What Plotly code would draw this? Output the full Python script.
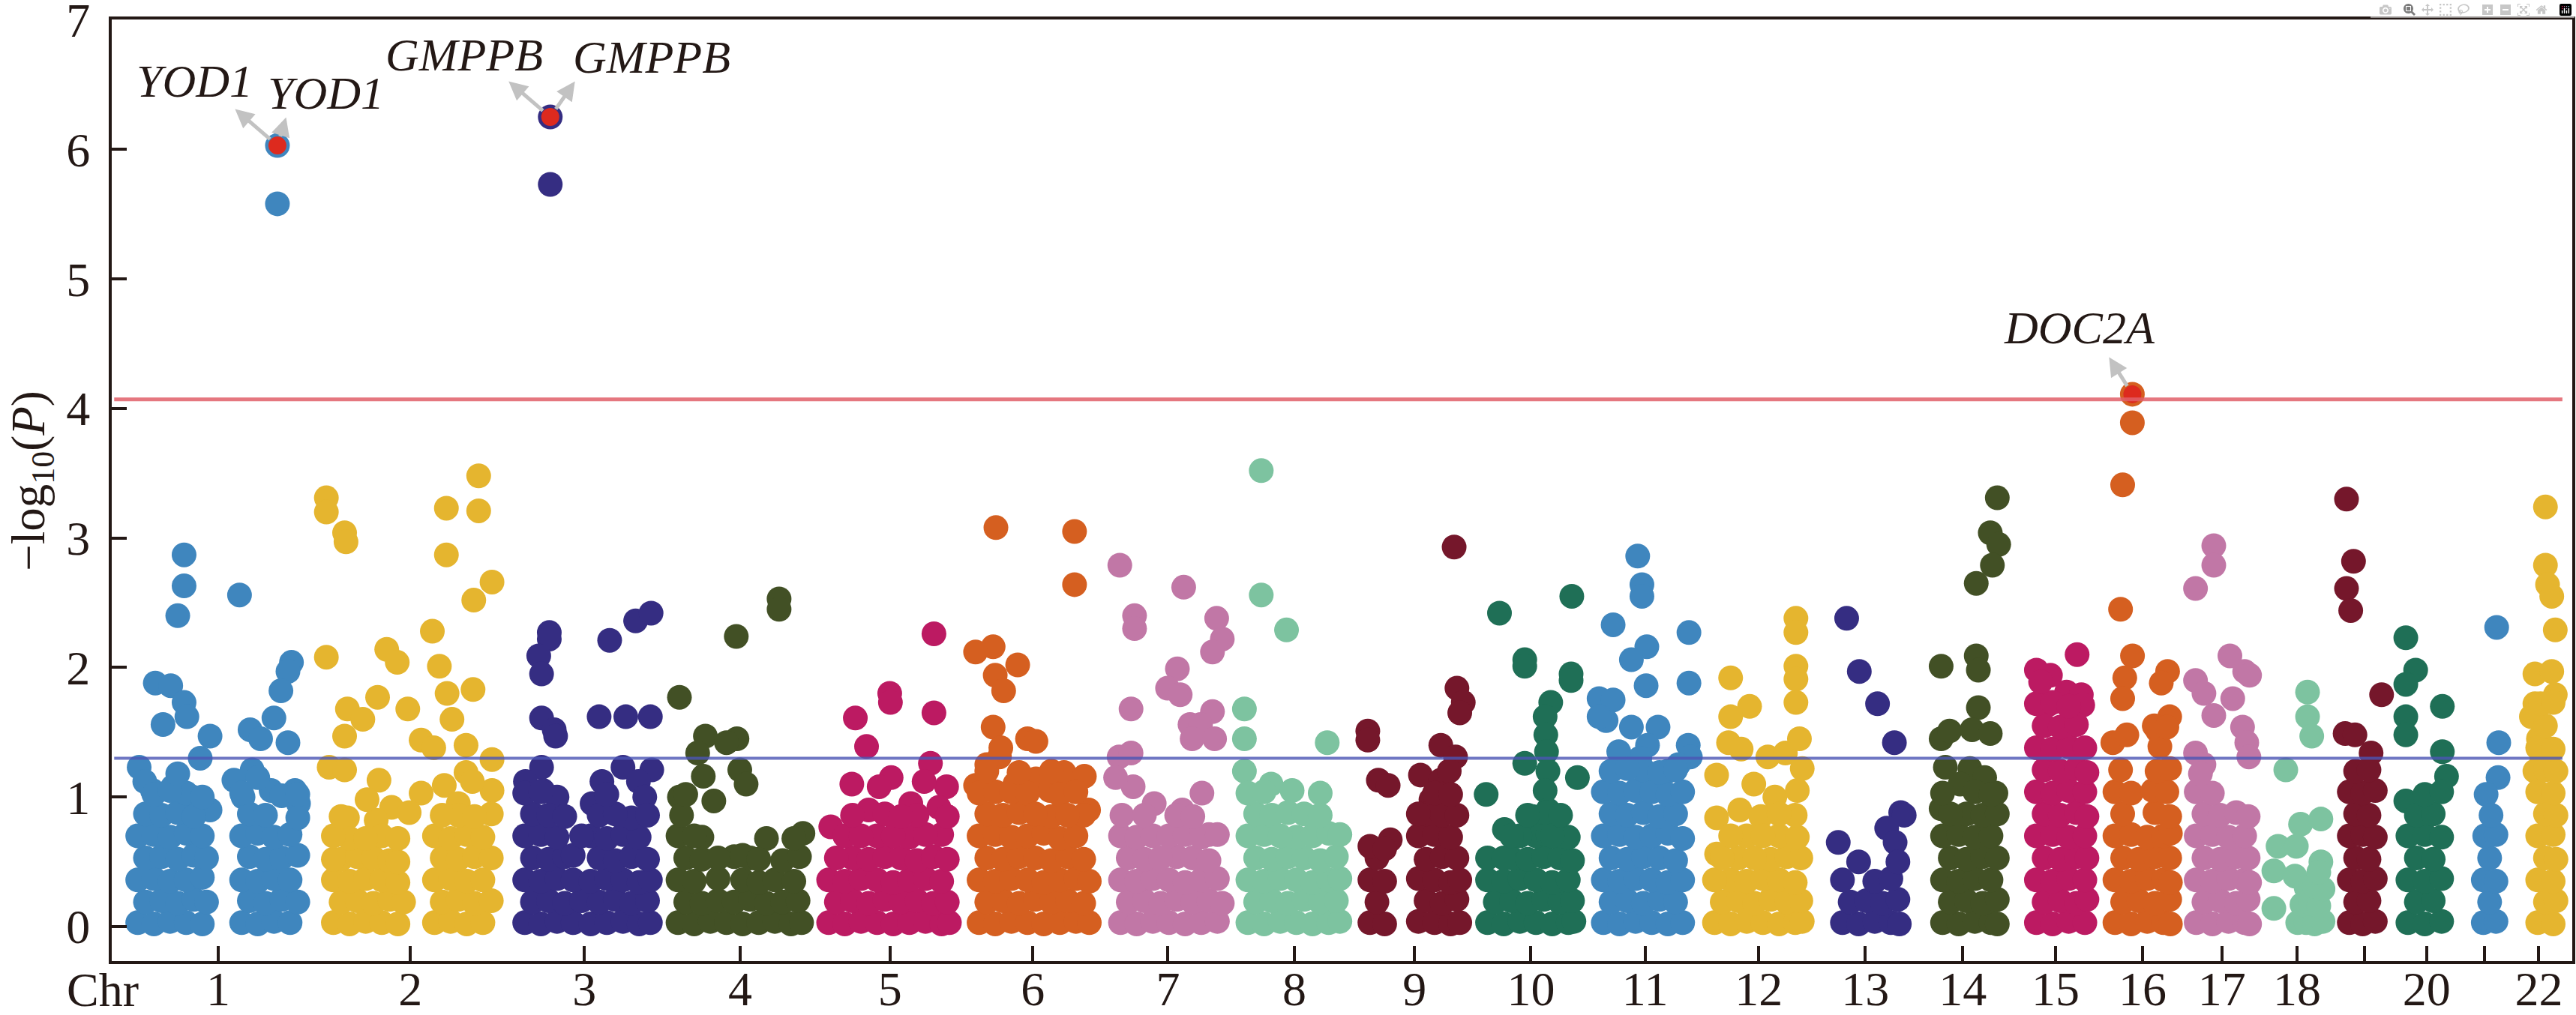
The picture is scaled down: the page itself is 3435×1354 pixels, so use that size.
import plotly.graph_objects as go

# chromosome sizes (Mb) and axis labels (19 and 21 are left blank on the axis)
CHROM_LEN = [249.3, 243.2, 198.0, 191.2, 180.9, 171.1, 159.1, 146.4, 141.2, 135.5, 135.0,
             133.9, 115.2, 107.3, 102.5, 90.4, 81.2, 78.1, 59.1, 63.0, 48.1, 51.3]
TICK_TEXT = ["1", "2", "3", "4", "5", "6", "7", "8", "9", "10", "11", "12", "13", "14",
             "15", "16", "17", "18", "", "20", "", "22"]

# (position in Mb, -log10 P) per chromosome
CHR1 = [
    (209, 6.03), (209, 5.58),
    (76, 2.87), (76, 2.63), (67, 2.40), (155, 2.56), (229, 2.04), (224, 1.97), (214, 1.82),
    (204, 1.61), (35, 1.88), (57, 1.86), (76, 1.73), (80, 1.62), (46, 1.56), (113, 1.47),
    (170, 1.52), (185, 1.45), (224, 1.42), (99, 1.30), (12, 1.23), (173, 1.21), (147, 1.13),
    (234, 1.05), (31, 1.05), (113, 0.90), (20, 1.12), (60, 1.08), (88, 1.00), (160, 1.00),
    (200, 1.05), (239, 0.95),
    (10, 0.03), (33, 0.02), (56, 0.04), (79, 0.03), (102, 0.02), (158, 0.03), (181, 0.02), (204, 0.04), (227, 0.03),
    (21, 0.19), (44, 0.20), (67, 0.18), (90, 0.21), (108, 0.19), (169, 0.20), (192, 0.18), (215, 0.21), (238, 0.19),
    (10, 0.36), (33, 0.37), (56, 0.35), (79, 0.36), (102, 0.38), (158, 0.36), (181, 0.35), (204, 0.37), (227, 0.36),
    (21, 0.53), (44, 0.54), (67, 0.52), (90, 0.55), (108, 0.53), (169, 0.54), (192, 0.52), (215, 0.53), (238, 0.55),
    (10, 0.70), (33, 0.71), (56, 0.69), (79, 0.72), (102, 0.70), (158, 0.70), (181, 0.72), (204, 0.69), (227, 0.71),
    (21, 0.87), (44, 0.86), (67, 0.88), (90, 0.85), (169, 0.87), (192, 0.86), (238, 0.84),
    (33, 1.02), (79, 1.03), (215, 1.01), (56, 1.05), (102, 1.00), (158, 1.03), (238, 1.02),
    (67, 1.18), (181, 1.15),
]
CHR2 = [
    (2, 3.31), (2, 3.20), (28, 3.04), (30, 2.97), (173, 3.23), (219, 3.48), (219, 3.21),
    (173, 2.87), (238, 2.66), (212, 2.52), (153, 2.28), (2, 2.08), (88, 2.14), (103, 2.04),
    (163, 2.01), (174, 1.80), (211, 1.83), (75, 1.77), (118, 1.68), (32, 1.68), (54, 1.60),
    (181, 1.60), (28, 1.47), (137, 1.44), (155, 1.38), (201, 1.40), (238, 1.29), (6, 1.23),
    (28, 1.21), (201, 1.19), (77, 1.13), (238, 1.05), (137, 1.03), (170, 1.09), (95, 0.92),
    (73, 0.82), (32, 0.84), (210, 1.12), (190, 0.95), (60, 0.98), (120, 0.88),
    (12, 0.03), (35, 0.02), (58, 0.04), (81, 0.03), (104, 0.02), (156, 0.03), (179, 0.04), (202, 0.02), (225, 0.03),
    (23, 0.19), (46, 0.20), (69, 0.18), (92, 0.21), (112, 0.19), (167, 0.19), (190, 0.21), (213, 0.18), (237, 0.20),
    (12, 0.36), (35, 0.35), (58, 0.37), (81, 0.36), (104, 0.34), (156, 0.36), (179, 0.37), (202, 0.35), (225, 0.36),
    (23, 0.52), (46, 0.54), (69, 0.53), (92, 0.51), (167, 0.53), (190, 0.52), (213, 0.54), (237, 0.53),
    (35, 0.68), (81, 0.70), (156, 0.70), (179, 0.68), (202, 0.71), (225, 0.69),
    (190, 0.86), (237, 0.87), (12, 0.52), (104, 0.50), (58, 0.68), (104, 0.68), (12, 0.70),
    (167, 0.86), (213, 0.85), (23, 0.85),
]
CHR3 = [
    (50.4, 6.25), (50.4, 5.73),
    (49, 2.27), (49, 2.22), (34, 2.09), (38, 1.95), (135, 2.21), (172, 2.36), (194, 2.42),
    (38, 1.61), (56, 1.52), (58, 1.47), (120, 1.62), (158, 1.62), (193, 1.62), (38, 1.23),
    (154, 1.23), (195, 1.21), (124, 1.12), (176, 1.12), (15, 1.12), (40, 1.05), (60, 1.00),
    (110, 0.95), (185, 1.00),
    (14, 0.03), (37, 0.02), (60, 0.04), (83, 0.03), (108, 0.02), (131, 0.03), (154, 0.04), (177, 0.02), (193, 0.03),
    (25, 0.19), (48, 0.20), (71, 0.18), (95, 0.20), (120, 0.19), (143, 0.21), (166, 0.18), (189, 0.20),
    (14, 0.36), (37, 0.35), (60, 0.37), (83, 0.36), (108, 0.35), (131, 0.37), (154, 0.36), (177, 0.34), (193, 0.36),
    (25, 0.53), (48, 0.52), (71, 0.54), (120, 0.53), (143, 0.51), (166, 0.54), (189, 0.52),
    (14, 0.70), (37, 0.71), (60, 0.69), (108, 0.70), (131, 0.68), (154, 0.71), (177, 0.69),
    (25, 0.87), (48, 0.86), (71, 0.85), (120, 0.86), (166, 0.84),
    (14, 1.03), (37, 1.04), (143, 0.87), (189, 0.86), (131, 1.02), (83, 0.55), (95, 0.70),
]
CHR4 = [
    (151, 2.53), (151, 2.45), (90, 2.24), (9, 1.77), (46, 1.47), (91, 1.45), (35, 1.34),
    (76, 1.42), (95, 1.21), (43, 1.16), (9, 1.00), (104, 1.10), (58, 0.97), (185, 0.72),
    (7, 0.03), (30, 0.02), (53, 0.04), (76, 0.03), (99, 0.02), (122, 0.03), (145, 0.04), (168, 0.02), (183, 0.03),
    (18, 0.19), (41, 0.18), (64, 0.20), (87, 0.19), (110, 0.21), (133, 0.18), (156, 0.19), (178, 0.20),
    (7, 0.36), (30, 0.35), (64, 0.37), (99, 0.36), (122, 0.34), (145, 0.36), (172, 0.35),
    (18, 0.53), (41, 0.52), (87, 0.54), (110, 0.53), (156, 0.51), (180, 0.54),
    (7, 0.70), (41, 0.69), (133, 0.68),
    (12, 0.86), (64, 0.53), (30, 0.70), (99, 0.55), (122, 0.52), (172, 0.68), (18, 1.02),
]
CHR5 = [
    (153, 2.26), (90, 1.80), (91, 1.73), (41, 1.61), (153, 1.65), (57, 1.39), (148, 1.26),
    (36, 1.10), (92, 1.15), (75, 1.08), (6, 0.77), (171, 1.08), (139, 1.12), (120, 0.95),
    (60, 0.90), (160, 0.92),
    (3, 0.03), (26, 0.02), (49, 0.04), (72, 0.03), (95, 0.02), (118, 0.03), (141, 0.04), (164, 0.02), (175, 0.03),
    (14, 0.19), (37, 0.20), (60, 0.18), (83, 0.21), (106, 0.19), (129, 0.20), (152, 0.18), (172, 0.19),
    (3, 0.36), (26, 0.35), (49, 0.37), (72, 0.36), (95, 0.34), (118, 0.36), (141, 0.37), (164, 0.35),
    (37, 0.53), (60, 0.52), (83, 0.54), (106, 0.53), (129, 0.51), (152, 0.54), (172, 0.52),
    (72, 0.70), (118, 0.69), (164, 0.71),
    (14, 0.53), (26, 0.70), (49, 0.70), (95, 0.70), (141, 0.71), (37, 0.86), (83, 0.87),
    (129, 0.86), (172, 0.85), (106, 0.85),
]
CHR6 = [
    (33, 3.08), (145, 3.05), (145, 2.64), (29, 2.16), (4, 2.12), (64, 2.02), (32, 1.94),
    (44, 1.82), (29, 1.54), (78, 1.45), (90, 1.43), (38, 1.31), (130, 1.19), (159, 1.16),
    (165, 0.90), (90, 1.14), (4, 1.09), (20, 1.25), (40, 1.38), (110, 1.05), (60, 1.10),
    (9, 0.03), (32, 0.02), (55, 0.04), (78, 0.03), (101, 0.02), (124, 0.03), (147, 0.04), (166, 0.03),
    (20, 0.19), (43, 0.20), (66, 0.18), (89, 0.21), (112, 0.19), (135, 0.20), (158, 0.18),
    (9, 0.36), (32, 0.35), (55, 0.37), (78, 0.36), (101, 0.34), (124, 0.36), (147, 0.37), (166, 0.35),
    (20, 0.53), (43, 0.52), (66, 0.54), (89, 0.53), (112, 0.51), (135, 0.54), (158, 0.52),
    (9, 0.70), (32, 0.71), (55, 0.69), (78, 0.70), (101, 0.72), (124, 0.68), (147, 0.70),
    (20, 0.87), (43, 0.86), (66, 0.88), (112, 0.85), (158, 0.86),
    (9, 1.03), (32, 1.04), (55, 1.04), (78, 1.03), (124, 1.02), (147, 1.04), (89, 0.87),
    (135, 0.86), (20, 1.20), (66, 1.19), (112, 1.20),
]
CHR7 = [
    (11, 2.79), (102, 2.62), (32, 2.40), (32, 2.30), (149, 2.38), (157, 2.22), (143, 2.12),
    (93, 1.99), (79, 1.84), (97, 1.79), (27, 1.68), (143, 1.66), (111, 1.56), (126, 1.56),
    (114, 1.45), (146, 1.45), (10, 1.31), (27, 1.34), (30, 1.08), (128, 1.03), (5, 1.15),
    (60, 0.95), (100, 0.90),
    (12, 0.03), (35, 0.02), (58, 0.04), (81, 0.03), (104, 0.02), (127, 0.03), (150, 0.04),
    (23, 0.19), (46, 0.20), (69, 0.18), (92, 0.21), (115, 0.19), (138, 0.20), (157, 0.18),
    (12, 0.36), (35, 0.35), (58, 0.37), (81, 0.36), (104, 0.34), (127, 0.36), (150, 0.37),
    (23, 0.53), (46, 0.52), (92, 0.54), (115, 0.53), (138, 0.51),
    (12, 0.70), (35, 0.69), (138, 0.71),
    (14, 0.86), (58, 0.70), (81, 0.70), (104, 0.71), (127, 0.69), (150, 0.71), (69, 0.53),
    (46, 0.86), (92, 0.86), (115, 0.85),
]
CHR8 = [
    (26, 3.52), (26, 2.56), (62, 2.29), (2, 1.68), (2, 1.45), (120, 1.42), (2, 1.20),
    (110, 1.03), (40, 1.10), (70, 1.05),
    (7, 0.03), (30, 0.02), (53, 0.04), (76, 0.03), (99, 0.02), (122, 0.03), (138, 0.04),
    (18, 0.19), (41, 0.20), (64, 0.18), (87, 0.21), (110, 0.19), (133, 0.20),
    (7, 0.36), (30, 0.35), (53, 0.37), (76, 0.36), (99, 0.34), (122, 0.36), (138, 0.37),
    (18, 0.53), (41, 0.52), (64, 0.54), (87, 0.53), (110, 0.51), (133, 0.54),
    (7, 0.70), (30, 0.71), (76, 0.69), (99, 0.70), (122, 0.72),
    (18, 0.87), (41, 0.86), (64, 0.88),
    (53, 0.70), (138, 0.71), (87, 0.87), (110, 0.86), (7, 1.03), (30, 1.04),
]
CHR9 = [
    (127, 2.93), (131, 1.84), (140, 1.73), (135, 1.65), (4, 1.51), (4, 1.44), (108, 1.40),
    (129, 1.31), (79, 1.17), (108, 1.13), (19, 1.13), (33, 1.09), (94, 0.98), (36, 0.67),
    (120, 1.20),
    (7, 0.03), (28, 0.02), (76, 0.04), (99, 0.03), (122, 0.02), (135, 0.03),
    (17, 0.19), (87, 0.20), (110, 0.18), (131, 0.21),
    (7, 0.36), (28, 0.35), (76, 0.37), (99, 0.36), (122, 0.34), (135, 0.36),
    (17, 0.53), (87, 0.52), (110, 0.54), (131, 0.53),
    (76, 0.70), (99, 0.71), (122, 0.69),
    (87, 0.87), (110, 0.86),
    (7, 0.62), (28, 0.60), (76, 0.87), (131, 0.86), (99, 1.03), (122, 1.02),
]
CHR10 = [
    (23, 2.42), (126, 2.55), (59, 2.06), (59, 2.01), (125, 1.95), (125, 1.90), (96, 1.73),
    (88, 1.62), (89, 1.48), (59, 1.26), (134, 1.15), (4, 1.02), (90, 1.35), (92, 1.20),
    (88, 1.05), (92, 0.90), (70, 0.85), (30, 0.75),
    (6, 0.03), (29, 0.02), (52, 0.04), (75, 0.03), (98, 0.02), (121, 0.03), (129, 0.04),
    (17, 0.19), (40, 0.20), (63, 0.18), (86, 0.21), (109, 0.19), (127, 0.20),
    (6, 0.36), (29, 0.35), (52, 0.37), (75, 0.36), (98, 0.34), (121, 0.36),
    (40, 0.53), (63, 0.52), (86, 0.54), (109, 0.53), (127, 0.51),
    (75, 0.70), (92, 0.71), (121, 0.69),
    (90, 0.88), (6, 0.53), (29, 0.53), (52, 0.70), (98, 0.70), (40, 0.70), (110, 0.86),
    (63, 0.86),
]
CHR11 = [
    (57, 2.86), (63, 2.64), (63, 2.55), (22, 2.33), (130, 2.27), (70, 2.16), (48, 2.06),
    (130, 1.88), (69, 1.86), (2, 1.76), (22, 1.75), (12, 1.59), (2, 1.62), (86, 1.54),
    (129, 1.40), (132, 1.31), (48, 1.54), (71, 1.40), (60, 1.30), (100, 1.20), (115, 1.25),
    (30, 1.35),
    (8, 0.03), (31, 0.02), (54, 0.04), (77, 0.03), (100, 0.02), (121, 0.03),
    (19, 0.19), (42, 0.20), (65, 0.18), (88, 0.21), (111, 0.19),
    (8, 0.36), (31, 0.35), (54, 0.37), (77, 0.36), (100, 0.34), (121, 0.36),
    (19, 0.53), (42, 0.52), (65, 0.54), (88, 0.53), (111, 0.51),
    (8, 0.70), (31, 0.71), (54, 0.69), (77, 0.70), (100, 0.72), (121, 0.68),
    (19, 0.87), (42, 0.86), (65, 0.88), (88, 0.85), (111, 0.87),
    (8, 1.04), (31, 1.03), (54, 1.05), (77, 1.04), (100, 1.02), (121, 1.04),
    (19, 1.20), (65, 1.21), (88, 1.19), (42, 1.22), (111, 1.21),
]
CHR12 = [
    (120, 2.38), (120, 2.27), (120, 2.01), (120, 1.91), (120, 1.73), (27, 1.92), (54, 1.70),
    (27, 1.62), (24, 1.42), (42, 1.37), (80, 1.31), (105, 1.34), (7, 1.17), (129, 1.22),
    (7, 0.84), (7, 0.56), (60, 1.10), (90, 1.00), (125, 1.45), (122, 1.05), (40, 0.90),
    (70, 0.85),
    (4, 0.03), (27, 0.02), (50, 0.04), (73, 0.03), (96, 0.02), (119, 0.03), (129, 0.04),
    (15, 0.19), (38, 0.20), (61, 0.18), (84, 0.21), (107, 0.19), (127, 0.20),
    (27, 0.36), (50, 0.35), (73, 0.37), (96, 0.36), (119, 0.34),
    (38, 0.53), (84, 0.52), (107, 0.54), (127, 0.53),
    (96, 0.70), (122, 0.69),
    (4, 0.36), (15, 0.53), (61, 0.53), (50, 0.70), (73, 0.70), (27, 0.70), (119, 0.86),
    (96, 0.87),
]
CHR13 = [
    (31, 2.38), (49, 1.97), (75, 1.72), (99, 1.42), (108, 0.88), (113, 0.86), (88, 0.76),
    (19, 0.65), (100, 0.65),
    (25, 0.03), (48, 0.02), (71, 0.04), (94, 0.03), (106, 0.02),
    (36, 0.19), (59, 0.20), (82, 0.18), (104, 0.21),
    (25, 0.36), (71, 0.35), (94, 0.37),
    (48, 0.50), (104, 0.50),
]
CHR14 = [
    (103, 3.31), (93, 3.04), (105, 2.95), (96, 2.79), (73, 2.65), (23, 2.01), (73, 2.09),
    (76, 1.98), (76, 1.69), (23, 1.45), (35, 1.51), (67, 1.52), (93, 1.49), (29, 1.23),
    (64, 1.22), (101, 1.03), (23, 0.91), (50, 1.10), (85, 1.15),
    (25, 0.03), (48, 0.02), (71, 0.04), (94, 0.03), (103, 0.02),
    (36, 0.19), (59, 0.20), (82, 0.18), (103, 0.21),
    (25, 0.36), (48, 0.35), (71, 0.37), (94, 0.36),
    (36, 0.53), (59, 0.52), (82, 0.54), (103, 0.53),
    (25, 0.70), (48, 0.71), (71, 0.69), (94, 0.70),
    (59, 0.87), (82, 0.86), (36, 0.87), (103, 0.87), (25, 1.03), (71, 1.04), (94, 1.02),
]
CHR15 = [
    (82, 2.10), (24, 1.98), (44, 1.94), (67, 1.81), (88, 1.79), (40, 1.71), (90, 1.71),
    (24, 0.03), (47, 0.02), (70, 0.04), (93, 0.03),
    (35, 0.19), (58, 0.20), (81, 0.18), (96, 0.21),
    (24, 0.36), (47, 0.35), (70, 0.37), (93, 0.36),
    (35, 0.53), (58, 0.52), (81, 0.54), (96, 0.53),
    (24, 0.70), (47, 0.71), (70, 0.69), (93, 0.70),
    (35, 0.87), (58, 0.86), (81, 0.88), (96, 0.85),
    (24, 1.04), (47, 1.03), (70, 1.05), (93, 1.04),
    (35, 1.21), (58, 1.20), (81, 1.22), (96, 1.19),
    (24, 1.38), (47, 1.37), (70, 1.39), (93, 1.38),
    (35, 1.55), (58, 1.54), (81, 1.56),
    (24, 1.72), (47, 1.73), (70, 1.70),
    (30, 1.89),
]
CHR16 = [
    (30.8, 4.11), (30.8, 3.89), (17, 3.41), (14, 2.45), (31, 2.09), (81, 1.97), (72, 1.88),
    (20, 1.92), (17, 1.76), (84, 1.62), (3, 1.42), (23, 1.48), (67, 1.51),
    (6, 0.03), (29, 0.02), (52, 0.04), (75, 0.03), (85, 0.02),
    (17, 0.19), (40, 0.20), (63, 0.18), (84, 0.21),
    (6, 0.36), (29, 0.35), (52, 0.37), (75, 0.36), (85, 0.34),
    (17, 0.53), (40, 0.52), (63, 0.54), (84, 0.53),
    (6, 0.70), (29, 0.71), (52, 0.69), (75, 0.70), (85, 0.72),
    (17, 0.87), (63, 0.88), (84, 0.85),
    (6, 1.04), (29, 1.03), (60, 1.05), (80, 1.04),
    (14, 1.21), (66, 1.20), (84, 1.22),
    (70, 1.39), (62, 1.55), (80, 1.54),
]
CHR17 = [
    (29, 2.94), (29, 2.79), (3, 2.61), (52, 2.09), (73, 1.97), (80, 1.94), (3, 1.90),
    (15, 1.80), (56, 1.76), (29, 1.63), (70, 1.54), (76, 1.42), (79, 1.31), (3, 1.34),
    (15, 1.25),
    (4, 0.03), (27, 0.02), (50, 0.04), (73, 0.03), (80, 0.02),
    (15, 0.19), (38, 0.20), (61, 0.18), (78, 0.21),
    (4, 0.36), (27, 0.35), (50, 0.37), (73, 0.36), (80, 0.34),
    (15, 0.53), (38, 0.52), (61, 0.54), (78, 0.53),
    (4, 0.70), (27, 0.71), (50, 0.69), (73, 0.70),
    (15, 0.87), (38, 0.86), (61, 0.88), (78, 0.85),
    (4, 1.04), (27, 1.03),
    (10, 1.18),
]
CHR18 = [
    (54, 1.81), (54, 1.62), (60, 1.47), (23, 1.21), (12, 0.62), (44, 0.79), (73, 0.83),
    (38, 0.62), (73, 0.50), (6, 0.43), (36, 0.39), (6, 0.14),
    (40, 0.03), (52, 0.03), (64, 0.02), (76, 0.04), (46, 0.17), (58, 0.18), (70, 0.16),
    (52, 0.30), (64, 0.31), (76, 0.29), (70, 0.42),
]
CHR19 = [
    (4, 3.30), (14, 2.82), (4, 2.61), (10, 2.44), (54, 1.79), (2, 1.49), (16, 1.48), (39, 1.34),
    (8, 0.03), (27, 0.02), (45, 0.04),
    (17, 0.19), (36, 0.20),
    (8, 0.36), (27, 0.35), (45, 0.37),
    (17, 0.53), (36, 0.52),
    (8, 0.70), (27, 0.71), (45, 0.69),
    (17, 0.87), (36, 0.86),
    (8, 1.04), (27, 1.03), (45, 1.05),
    (17, 1.20), (36, 1.21),
]
CHR20 = [
    (2, 2.23), (16, 1.98), (2, 1.87), (54, 1.70), (2, 1.62), (2, 1.48), (54, 1.35), (60, 1.16),
    (2, 0.97),
    (5, 0.03), (29, 0.02), (53, 0.04),
    (17, 0.19), (41, 0.20),
    (5, 0.36), (29, 0.35), (53, 0.37),
    (17, 0.53), (41, 0.52),
    (5, 0.70), (29, 0.71), (53, 0.69),
    (17, 0.86), (41, 0.87),
    (29, 1.02), (53, 1.04),
]
CHR21 = [
    (41, 2.31), (44, 1.42), (43, 1.15), (26, 1.02),
    (22, 0.03), (40, 0.04), (31, 0.19), (22, 0.36), (40, 0.35), (31, 0.53), (24, 0.70),
    (40, 0.71), (33, 0.86),
]
CHR22 = [
    (35, 3.24), (35, 2.79), (38, 2.64), (44, 2.55), (49, 2.29), (20, 1.95), (44, 1.97),
    (20, 1.72), (49, 1.79), (15, 1.62), (25, 1.45), (30, 1.30), (20, 1.20),
    (24, 0.03), (46, 0.02), (35, 0.19), (50, 0.20), (24, 0.36), (46, 0.35), (35, 0.53),
    (50, 0.52), (24, 0.70), (46, 0.71), (35, 0.87), (50, 0.86), (24, 1.04), (46, 1.03),
    (35, 1.21), (50, 1.20), (24, 1.38), (46, 1.37), (35, 1.55), (28, 1.72), (46, 1.73),
]

# highlighted hits
HIT_GENE = ["YOD1", "GMPPB", "DOC2A"]
HIT_CHR = [1, 3, 16]
HIT_POS = [209, 50.4, 30.8]
HIT_LOGP = [6.03, 6.25, 4.11]

SUGGESTIVE = 1.30
SIGNIFICANT = 4.07

CHR_POINTS = [CHR1, CHR2, CHR3, CHR4, CHR5, CHR6, CHR7, CHR8, CHR9, CHR10, CHR11,
              CHR12, CHR13, CHR14, CHR15, CHR16, CHR17, CHR18, CHR19, CHR20, CHR21, CHR22]

PALETTE = ["#3F86BE", "#E5B52F", "#352D82", "#425025", "#BC1A62",
           "#D55F20", "#C177A6", "#7DC3A0", "#75172B", "#1F6F56"]
FONT = "Liberation Serif"
INK = "#231815"

# cumulative genome coordinate with a gap between chromosomes
GAP = 27.4
offsets = []
start = 0.0
for length in CHROM_LEN:
    offsets.append(start)
    start += length + GAP
centers = [o + length / 2 for o, length in zip(offsets, CHROM_LEN)]

fig = go.Figure()

for i, pts in enumerate(CHR_POINTS):
    fig.add_trace(go.Scatter(
        x=[offsets[i] + p for p, _ in pts],
        y=[v for _, v in pts],
        mode="markers",
        marker=dict(size=33, color=PALETTE[i % 10], line=dict(width=0)),
        showlegend=False,
        hoverinfo="skip",
    ))

hit_x = [offsets[c - 1] + p for c, p in zip(HIT_CHR, HIT_POS)]
fig.add_trace(go.Scatter(
    x=hit_x, y=HIT_LOGP, mode="markers",
    marker=dict(size=24, color="#DD2A1E", line=dict(width=0)),
    showlegend=False, hoverinfo="skip",
))

# threshold lines
fig.add_shape(type="line", xref="paper", yref="y", x0=0.001, x1=0.996,
              y0=SIGNIFICANT, y1=SIGNIFICANT,
              line=dict(color="rgba(225,95,105,0.85)", width=5), layer="above")
fig.add_shape(type="line", xref="paper", yref="y", x0=0.001, x1=0.996,
              y0=SUGGESTIVE, y1=SUGGESTIVE,
              line=dict(color="rgba(75,85,180,0.8)", width=4), layer="above")

# gene labels: (hit index, label shift px, arrow end px)
label_specs = [
    (0, (-110, 86), (-58, -50)),
    (0, (65, 70), (12, -39)),
    (1, (-115, 83), (-57, -49)),
    (1, (135, 80), (34, -49)),
    (2, (-70, 89), (-32, -51)),
]
for k, (dx, dy), (ax, ay) in label_specs:
    fig.add_annotation(
        x=hit_x[k], y=HIT_LOGP[k], xref="x", yref="y",
        text="", showarrow=True, ax=ax, ay=ay,
        arrowside="start", startarrowhead=2, startarrowsize=1,
        arrowwidth=5, arrowcolor="#C2C2C2", standoff=13,
    )
    fig.add_annotation(
        x=hit_x[k], y=HIT_LOGP[k], xref="x", yref="y",
        text="<i>%s</i>" % HIT_GENE[k], showarrow=False,
        xshift=dx, yshift=dy,
        font=dict(family=FONT, size=62, color=INK),
    )

# axis title and "Chr" label
fig.add_annotation(
    text="\u2212log<sub>10</sub>(<i>P</i>)", xref="paper", yref="paper",
    x=-0.0325, y=0.51, textangle=-90, showarrow=False,
    xanchor="center", yanchor="middle",
    font=dict(family=FONT, size=63, color=INK),
)
fig.add_annotation(
    text="Chr", xref="paper", yref="paper", x=-0.0037, y=-0.031,
    showarrow=False, xanchor="center", yanchor="middle",
    font=dict(family=FONT, size=64, color=INK),
)

axis_style = dict(
    showline=True, linewidth=4, linecolor=INK, mirror=True,
    ticks="inside", ticklen=20, tickwidth=4, tickcolor=INK,
    showgrid=False, zeroline=False, automargin=False,
    tickfont=dict(family=FONT, size=64, color=INK),
    ticklabeloverflow="allow",
)
fig.update_xaxes(range=[-27.05, 3478.3], tickvals=centers, ticktext=TICK_TEXT,
                 ticklabelstandoff=-22, **axis_style)
fig.update_yaxes(range=[-0.266, 7.003], tickvals=list(range(8)),
                 ticklabelstandoff=12, **axis_style)

fig.update_layout(
    width=3435, height=1354,
    margin=dict(l=149, r=5, t=26, b=72, pad=0),
    plot_bgcolor="white", paper_bgcolor="white",
    font=dict(family=FONT, color=INK),
)

fig.write_html("out.html", post_script="document.body.style.margin='0';")
